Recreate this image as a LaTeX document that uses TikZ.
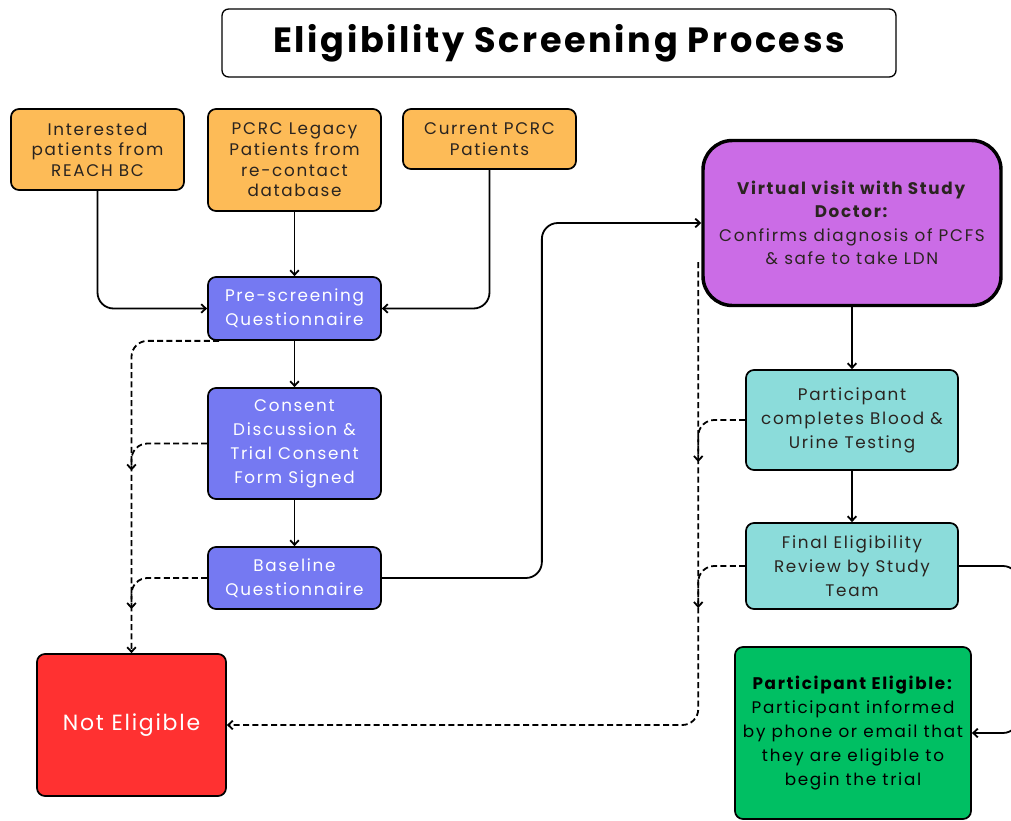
\documentclass[tikz,border=0pt]{standalone}
\usepackage{fontspec}
\setmainfont{Poppins}
\newfontfamily\titlefont{Poppins}[LetterSpace=7.5]
\newfontfamily\bodyfont{Poppins}[LetterSpace=10]
\newfontfamily\nefont{Poppins}[LetterSpace=8]
\usetikzlibrary{arrows.meta,calc}
\definecolor{cOrange}{HTML}{FDBB57}
\definecolor{cBlue}{HTML}{7579F2}
\definecolor{cPurple}{HTML}{CB6CE6}
\definecolor{cTeal}{HTML}{8BDCDA}
\definecolor{cGreen}{HTML}{00BF63}
\definecolor{cRed}{HTML}{FF3131}
\definecolor{cText}{HTML}{2A2420}
\begin{document}
\begin{tikzpicture}[x=0.75pt,y=-0.75pt,
  sz/.style 2 args={minimum width=#1*0.75pt, minimum height=#2*0.75pt},
  box/.style={draw=black, line width=1.3pt, rounded corners=6pt, align=center, inner sep=0pt,
    font=\bodyfont\fontsize{12.6}{15.5}\selectfont},
  orange/.style={box, fill=cOrange, text=cText},
  blue/.style={box, fill=cBlue, text=white, font=\bodyfont\fontsize{12.6}{18}\selectfont},
  teal/.style={box, fill=cTeal, text=cText, font=\bodyfont\fontsize{12.6}{18}\selectfont},
  arr/.style={-{Straight Barb[length=3.5pt,width=6.5pt]}, line width=1.35pt, rounded corners=12pt},
  darr/.style={arr, dash pattern=on 4.5pt off 2.5pt}
]
\useasboundingbox (0,0) rectangle (1011,821);

\node[draw=black, line width=1pt, rounded corners=5pt, sz={674}{68}, font=\titlefont\fontsize{26.3}{30}\selectfont\bfseries] (title) at (559,43) {Eligibility Screening Process};

\node[orange, sz={173}{81}] (o1) at (97.5,149.5) {Interested\\patients from\\REACH BC};
\node[orange, sz={173}{102}] (o2) at (294.5,160) {PCRC Legacy\\Patients from\\re-contact\\database};
\node[orange, sz={173}{60}] (o3) at (489.5,139) {Current PCRC\\Patients};

\node[blue, sz={173}{63}] (pre) at (294.5,308.5) {Pre-screening\\Questionnaire};
\node[blue, sz={173}{111}] (consent) at (294.5,443.5) {Consent\\Discussion \&\\Trial Consent\\Form Signed};
\node[blue, sz={173}{62}] (base) at (294.5,578) {Baseline\\Questionnaire};

\node[box, fill=cRed, text=white, sz={189}{142}, font=\nefont\fontsize{16.5}{20}\selectfont] (ne) at (131.5,725) {Not Eligible};

\node[box, fill=cPurple, text=cText, line width=2.6pt, rounded corners=22pt, sz={298}{165},
  font=\bodyfont\fontsize{12.6}{17.5}\selectfont] (virt) at (852,223)
  {\textbf{Virtual visit with Study}\\\textbf{Doctor:}\\Confirms diagnosis of PCFS\\\& safe to take LDN};

\node[teal, sz={212}{100}] (blood) at (852,420) {Participant\\completes Blood \&\\Urine Testing};
\node[teal, sz={212}{86}] (final) at (852,566) {Final Eligibility\\Review by Study\\Team};

\node[box, fill=cGreen, text=black, sz={236}{172}, font=\bodyfont\fontsize{12.6}{18}\selectfont] (green) at (853,733)
  {\textbf{Participant Eligible:}\\Participant informed\\by phone or email that\\they are eligible to\\begin the trial};

% solid connectors
\draw[arr] (o1.south) |- (pre.west);
\draw[arr] (o2.south) -- (pre.north);
\draw[arr] (o3.south) |- (pre.east);
\draw[arr] (pre.south) -- (consent.north);
\draw[arr] (consent.south) -- (base.north);
\draw[arr] (base.east) -- ++(160,0) |- (virt.west);
\draw[arr] (virt.south) -- (blood.north);
\draw[arr] (blood.south) -- (final.north);
\draw[arr] (final.east) -- ++(60,0) |- (green.east);

% dashed connectors
\draw[darr] ($(pre.south west)+(12,0)$) -| (ne.north);
\draw[darr] (consent.west) -| ($(ne.north |- consent.west)+(0,27)$);
\draw[darr] (base.west) -| ($(ne.north |- base.west)+(0,31)$);
\coordinate (rtop) at ($(virt.west)+(-3,39)$);
\draw[darr] (rtop) |- (ne.east);
\draw[darr] (blood.west) -| ($(rtop |- blood.west)+(0,42)$);
\draw[darr] (final.west) -| ($(rtop |- final.west)+(0,42)$);
\end{tikzpicture}
\end{document}
